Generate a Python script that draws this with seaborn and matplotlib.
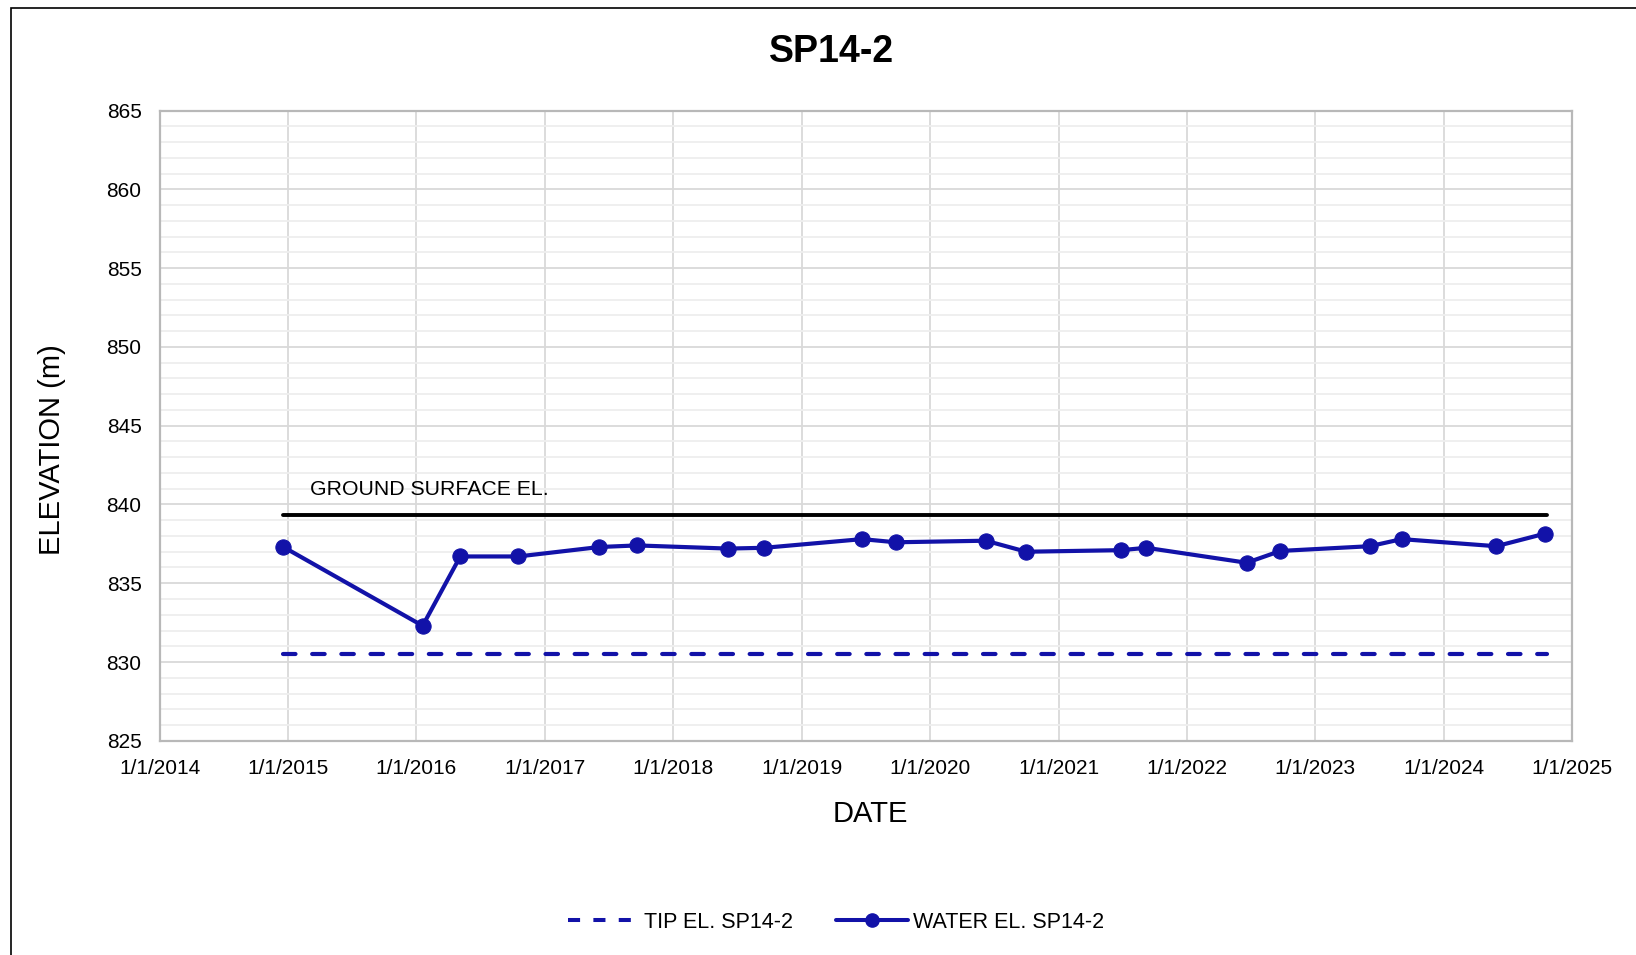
import pandas as pd
import matplotlib
matplotlib.use("Agg")
import matplotlib.pyplot as plt
from matplotlib.ticker import MultipleLocator
from matplotlib.lines import Line2D
from matplotlib.patches import Rectangle
import seaborn as sns

# %% data
water_dates = [
    "2014-12-19", "2016-01-19", "2016-05-05", "2016-10-17", "2017-06-05",
    "2017-09-20", "2018-06-06", "2018-09-17", "2019-06-22", "2019-09-26",
    "2020-06-08", "2020-10-01", "2021-06-28", "2021-09-08", "2022-06-20",
    "2022-09-24", "2023-06-05", "2023-09-04", "2024-05-30", "2024-10-16",
]
water_el = [
    837.3, 832.3, 836.7, 836.7, 837.3, 837.4, 837.2, 837.25, 837.8, 837.6,
    837.7, 837.0, 837.1, 837.25, 836.3, 837.05, 837.35, 837.8, 837.35, 838.15,
]
ref_dates = ["2014-12-19", "2024-10-20"]
ground_el = [839.3, 839.3]
tip_el = [830.5, 830.5]
tick_dates = [f"{y}-01-01" for y in range(2014, 2026)]
tick_labels = [f"1/1/{y}" for y in range(2014, 2026)]

water = pd.DataFrame({"date": pd.to_datetime(water_dates), "el": water_el})
ref = pd.DataFrame({"date": pd.to_datetime(ref_dates), "ground": ground_el, "tip": tip_el})

blue = "#1212A8"

# %% style
sns.set_style("white")
plt.rcParams["font.family"] = ["Liberation Sans", "DejaVu Sans"]
plt.rcParams["text.color"] = "black"
plt.rcParams["axes.labelcolor"] = "black"
plt.rcParams["xtick.color"] = "black"
plt.rcParams["ytick.color"] = "black"

fig = plt.figure(figsize=(16.36, 9.55), dpi=100)
ax = fig.add_axes([0.0976, 0.2243, 0.8634, 0.6599])

# --+ lines
sns.lineplot(data=ref, x="date", y="ground", color="black", lw=2.8, ax=ax)
sns.lineplot(data=ref, x="date", y="tip", color=blue, lw=3.0, ax=ax)
ax.lines[-1].set_dashes((3, 4))
ax.lines[-1].set_dash_capstyle("round")
sns.lineplot(data=water, x="date", y="el", color=blue, lw=3.0, marker="o",
             markersize=11, markeredgecolor=blue, ax=ax)

ax.text(pd.Timestamp("2015-03-05"), 840.95, "GROUND SURFACE EL.",
        fontsize=15.3, va="center", ha="left")

# --+ axes
ax.set_xlim(pd.Timestamp("2014-01-01"), pd.Timestamp("2025-01-01"))
ax.set_ylim(825, 865)
ax.set_xticks(pd.to_datetime(tick_dates))
ax.set_xticklabels(tick_labels)
ax.yaxis.set_major_locator(MultipleLocator(5))
ax.yaxis.set_minor_locator(MultipleLocator(1))
ax.tick_params(axis="both", which="both", length=0, labelsize=15)
ax.tick_params(axis="y", pad=13)
ax.tick_params(axis="x", pad=13)
ax.grid(which="major", color="#D9D9D9", lw=1.3)
ax.grid(which="minor", axis="y", color="#EEEEEE", lw=1.3)
ax.set_axisbelow(True)
for s in ax.spines.values():
    s.set_color("#B8B8B8")
    s.set_linewidth(1.6)

ax.set_xlabel("DATE", fontsize=21)
ax.set_ylabel("ELEVATION (m)", fontsize=21)
ax.xaxis.set_label_coords(0.503, -0.094)
ax.yaxis.set_label_coords(-0.066, 0.462)
fig.text(0.508, 0.946, "SP14-2", fontsize=27, fontweight="bold",
         ha="center", va="center")

# --+ legend
tip_h = Line2D([], [], color=blue, lw=2.9, dashes=(3, 3.3))
tip_h.set_dash_capstyle("butt")
handles = [
    tip_h,
    Line2D([], [], color=blue, lw=2.9, marker="o", markersize=9.5),
]
fig.legend(handles, ["TIP EL. SP14-2", "WATER EL. SP14-2"], loc="center",
           bbox_to_anchor=(0.511, 1 - 922 / 955), ncol=2, frameon=False,
           fontsize=15.5, handlelength=3.3, handletextpad=0.25,
           columnspacing=2.0)

# --+ outer frame
fig.patches.append(Rectangle((10.5 / 1636, -0.05), 1.1, 1.05 - 8.5 / 955,
                             transform=fig.transFigure, fill=False,
                             edgecolor="black", lw=1.2))

fig.savefig("out.png", dpi=100)
